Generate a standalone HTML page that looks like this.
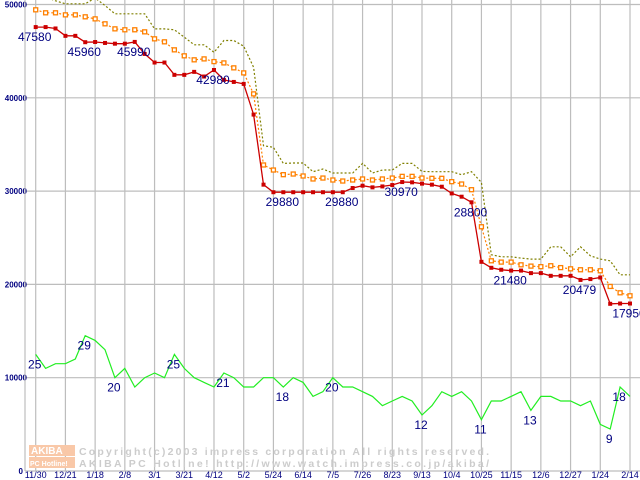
<!DOCTYPE html>
<html><head><meta charset="utf-8"><style>
html,body{margin:0;padding:0;background:#fff;}
svg{display:block;}
text{font-family:"Liberation Sans",sans-serif;}
</style></head><body>
<svg id="chart" width="640" height="480" viewBox="0 0 640 480">
<g id="grid"></g>
<g id="wm">
  <rect x="29" y="445" width="46" height="11" fill="#f9c8a8"/>
  <rect x="29" y="457" width="46" height="11" fill="#f9c8a8"/>
  <text x="31" y="454" font-size="10" font-weight="bold" fill="#fff" font-family="Liberation Mono, monospace">AKIBA</text>
  <text x="30" y="466" font-size="7" font-weight="bold" fill="#fff">PC Hotline!</text>
  <text x="79" y="455" font-size="10.5" font-weight="bold" fill="#cccccc" font-family="Liberation Mono, monospace" textLength="410">Copyright(c)2003 impress corporation All rights reserved.</text>
  <text x="79" y="467" font-size="10.5" font-weight="bold" fill="#cccccc" font-family="Liberation Mono, monospace" textLength="410">AKIBA PC Hotline!  http://www.watch.impress.co.jp/akiba/</text>
</g>
<g id="series"></g>
<g id="labels"></g>
</svg>
<script>
const xLabels=["11/30","12/21","1/18","2/8","3/1","3/21","4/12","5/2","5/24","6/14","7/5","7/26","8/23","9/13","10/4","10/25","11/15","12/6","12/27","1/24","2/14"];
const yTicks=[0,10000,20000,30000,40000,50000];
const minPrice=[47580,47580,47430,46640,46640,45960,45980,45880,45800,45800,45990,44700,43780,43780,42460,42460,42780,42280,42980,41920,41700,41490,38200,30690,29880,29880,29880,29880,29880,29880,29880,29880,30330,30580,30400,30500,30650,30970,30940,30800,30690,30470,29750,29400,28800,22420,21780,21570,21480,21480,21210,21210,20920,20920,20920,20479,20570,20740,17920,17950,17950];
const avgPrice=[49430,49110,49110,48890,48890,48680,48460,47930,47390,47290,47290,47070,46320,46000,45140,44500,44070,44170,43880,43740,43210,42670,40420,32800,32260,31760,31830,31620,31300,31400,31190,31080,31190,31300,31190,31300,31400,31580,31580,31400,31370,31370,31010,30760,30150,26180,22530,22390,22390,22100,21960,21900,22000,21800,21670,21570,21570,21460,19780,19100,18780];
const maxPrice=[50800,50800,50400,50070,50070,50070,50700,49890,49000,49000,49000,49000,47390,47390,47290,46490,45680,45680,44880,46140,46140,45530,43270,34870,34690,32970,33010,33010,32080,32370,31940,31940,31940,32970,31940,32260,32260,32970,32970,32110,32080,32080,32080,31760,32080,30930,23180,22960,22960,22820,22710,22710,24030,24030,22960,24030,23070,22710,22530,21030,21030];
const shopCount=[25,22,23,23,24,29,28,26,20,22,18,20,21,20,25,22,20,19,18,21,20,18,18,20,20,18,20,19,16,17,20,18,18,17,16,14,15,16,15,12,14,17,16,17,15,11,15,15,16,17,13,16,16,15,15,14,15,10,9,18,16];
const priceLabelIdx=[0,5,10,18,25,31,37,44,48,55,60];
const countLabelIdx=[0,5,8,14,19,25,30,39,45,50,58,59];
const countScale=500;

const NS="http://www.w3.org/2000/svg";
const X=i=>35.7+i*9.905;
const Y=v=>471-v*0.00933;
function mk(tag,attrs,parent){const e=document.createElementNS(NS,tag);for(const k in attrs)e.setAttribute(k,attrs[k]);parent.appendChild(e);return e;}
const grid=document.getElementById('grid'),ser=document.getElementById('series'),lab=document.getElementById('labels');
yTicks.forEach(v=>{
  const l=mk('line',{x1:25,x2:640,y1:Y(v),y2:Y(v),stroke:'#bdbdbd','stroke-width':1.2},grid);
  
  
  const t=mk('text',{x:v===0?23:27,y:Y(v)+3,'font-size':8,'font-weight':'bold',fill:'#000080','text-anchor':'end'},grid);
  t.textContent=String(v);
  
  
});
const ax=mk('line',{x1:25,x2:25,y1:0,y2:471,stroke:'#bdbdbd','stroke-width':1.2},grid);


xLabels.forEach((s,k)=>{
  const x=X(k*3);
  const l=mk('line',{x1:x,x2:x,y1:0,y2:471,stroke:'#bdbdbd','stroke-width':1.2},grid);
  
  
  const t=mk('text',{x:x,y:478,'font-size':9,fill:'#000080','text-anchor':'middle'},grid);
  t.textContent=s;
  
  
});
function pts(arr,f){return arr.map((v,i)=>X(i).toFixed(1)+','+Y(f?f(v):v).toFixed(1)).join(' ');}
let p=mk('polyline',{points:pts(maxPrice),fill:'none',stroke:'#808000','stroke-width':1.2,'stroke-dasharray':'2,2'},ser);


p=mk('polyline',{points:pts(shopCount,c=>c*countScale),fill:'none',stroke:'#22ee22','stroke-width':1.2},ser);


p=mk('polyline',{points:pts(avgPrice),fill:'none',stroke:'#ff8000','stroke-width':1.2,'stroke-dasharray':'2,2'},ser);


avgPrice.forEach((v,i)=>{
  const r=mk('rect',{x:X(i)-2,y:Y(v)-2,width:4,height:4,fill:'#fff',stroke:'#ff8000','stroke-width':1.3},ser);
  
  
});
p=mk('polyline',{points:pts(minPrice),fill:'none',stroke:'#cc0000','stroke-width':1.3},ser);


minPrice.forEach((v,i)=>{
  const r=mk('rect',{x:X(i)-2,y:Y(v)-2,width:4,height:4,fill:'#cc0000'},ser);
  
  
});
priceLabelIdx.forEach(i=>{
  const t=mk('text',{x:X(i)-1,y:Y(minPrice[i])+14,'font-size':12,fill:'#000080','text-anchor':'middle'},lab);
  t.textContent=String(minPrice[i]);
  
  
});
countLabelIdx.forEach(i=>{
  const t=mk('text',{x:X(i)-1,y:Y(shopCount[i]*countScale)+14,'font-size':12,fill:'#000080','text-anchor':'middle'},lab);
  t.textContent=String(shopCount[i]);
  
  
});
</script>
</body></html>
